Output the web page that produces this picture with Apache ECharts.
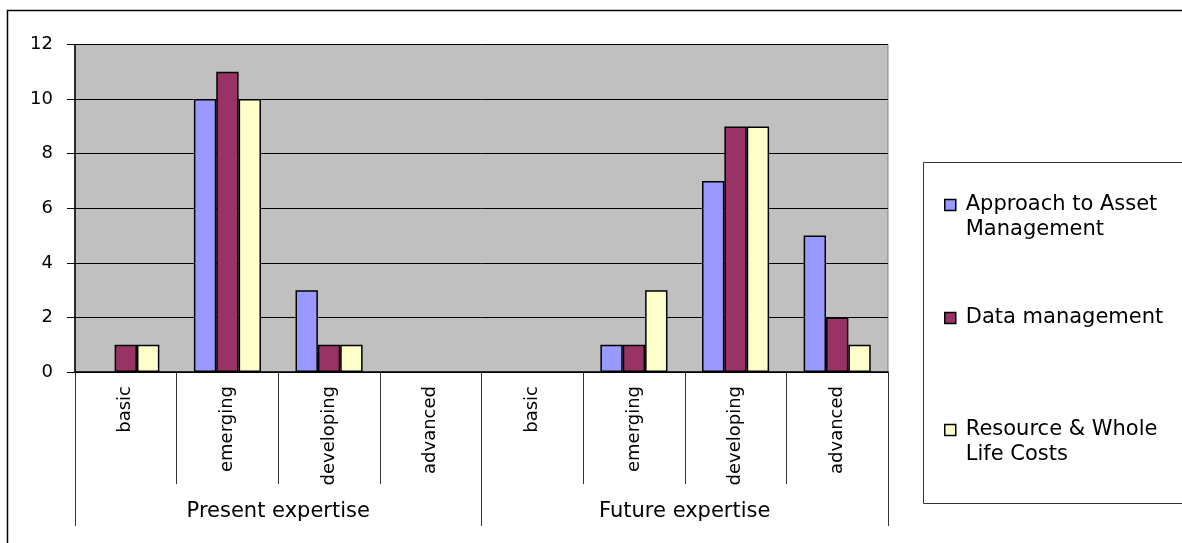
<!DOCTYPE html>
<html>
<head>
<meta charset="utf-8">
<script src="https://cdn.jsdelivr.net/npm/echarts@6/dist/echarts.min.js"></script>
<style>html,body{margin:0;padding:0;background:#fff}#c{width:1182px;height:543px}</style>
</head>
<body>
<div id="c"></div>
<script>
var categories = ['basic','emerging','developing','advanced','basic','emerging','developing','advanced'];
var groups = ['Present expertise','Future expertise'];
var seriesNames = ['Approach to Asset Management','Data management','Resource & Whole Life Costs'];
var legendLabels = ['Approach to Asset\nManagement','Data management','Resource & Whole\nLife Costs'];
var approach = [0,10,3,0,0,1,7,5];
var dataMgmt = [1,11,1,0,0,1,9,2];
var resource = [1,10,1,0,0,3,9,1];
var yTicks = [0,2,4,6,8,10,12];
var colors = ['#9999FF','#993366','#FFFFCC'];

var FONT = 'DejaVu Sans';
var chart = echarts.init(document.getElementById('c'), null, {renderer:'canvas'});
var values = [approach, dataMgmt, resource];
var series = seriesNames.map(function(n,i){
  return {
    name:n, type:'bar', xAxisIndex:0, yAxisIndex:0,
    // zero values draw no bar in the original
    data: values[i].map(function(v){ return v === 0 ? '-' : v; }),
    barGap:'0%', barCategoryGap:'34%',
    itemStyle:{color:colors[i], borderColor:'#000', borderWidth:1.5},
    emphasis:{disabled:true}
  };
});
var legendTops = [167.5, 305.5, 392.5];
var legends = seriesNames.map(function(n,i){
  var multi = legendLabels[i].indexOf('\n')>=0;
  return {
    data:[n], left:944, top:legendTops[i], padding:0,
    itemWidth:11, itemHeight:11, icon:'rect', selectedMode:false,
    itemStyle:{borderColor:'#000', borderWidth:1.5},
    formatter:function(){return multi ? ' \n' + legendLabels[i] : legendLabels[i];},
    textStyle:{fontFamily:FONT, fontSize:21, color:'#000', lineHeight:25, padding:[0,0,0,5]}
  };
});
chart.setOption({
  animation:false,
  backgroundColor:'#fff',
  grid:{left:75, right:294, top:44.5, bottom:171, show:true,
    backgroundColor:'#C0C0C0', borderColor:'#808080', borderWidth:1},
  legend: legends,
  xAxis:[{
    type:'category', data:categories, position:'bottom', offset:0,
    axisLine:{show:true, lineStyle:{color:'#000', width:1.5}},
    axisTick:{show:true, interval:0, length:112, lineStyle:{color:'#333', width:1}},
    axisLabel:{interval:0, rotate:90, margin:14, fontFamily:FONT, fontSize:18, color:'#000'},
    splitLine:{show:false}
  },{
    type:'category', data:groups, position:'bottom', offset:0,
    axisLine:{show:false},
    axisTick:{show:true, interval:0, length:154, lineStyle:{color:'#333', width:1}},
    axisLabel:{interval:0, margin:129, fontFamily:FONT, fontSize:21, color:'#000'},
    splitLine:{show:false}
  }],
  yAxis:{
    type:'value', min:yTicks[0], max:yTicks[yTicks.length-1], interval:2,
    axisLine:{show:true, lineStyle:{color:'#000', width:1.5}},
    axisTick:{show:true, length:8, lineStyle:{color:'#000'}},
    axisLabel:{margin:22, fontFamily:FONT, fontSize:18, color:'#000'},
    splitLine:{show:true, lineStyle:{color:'#000', width:1}}
  },
  series: series,
  graphic:[
    {type:'rect', shape:{x:7.5, y:10.5, width:1300, height:700}, style:{fill:null, stroke:'#000', lineWidth:1.5}, silent:true, z:-1},
    {type:'rect', shape:{x:923.5, y:162.5, width:400, height:341}, style:{fill:null, stroke:'#333', lineWidth:1}, silent:true, z:-1}
  ]
});
</script>
</body>
</html>
